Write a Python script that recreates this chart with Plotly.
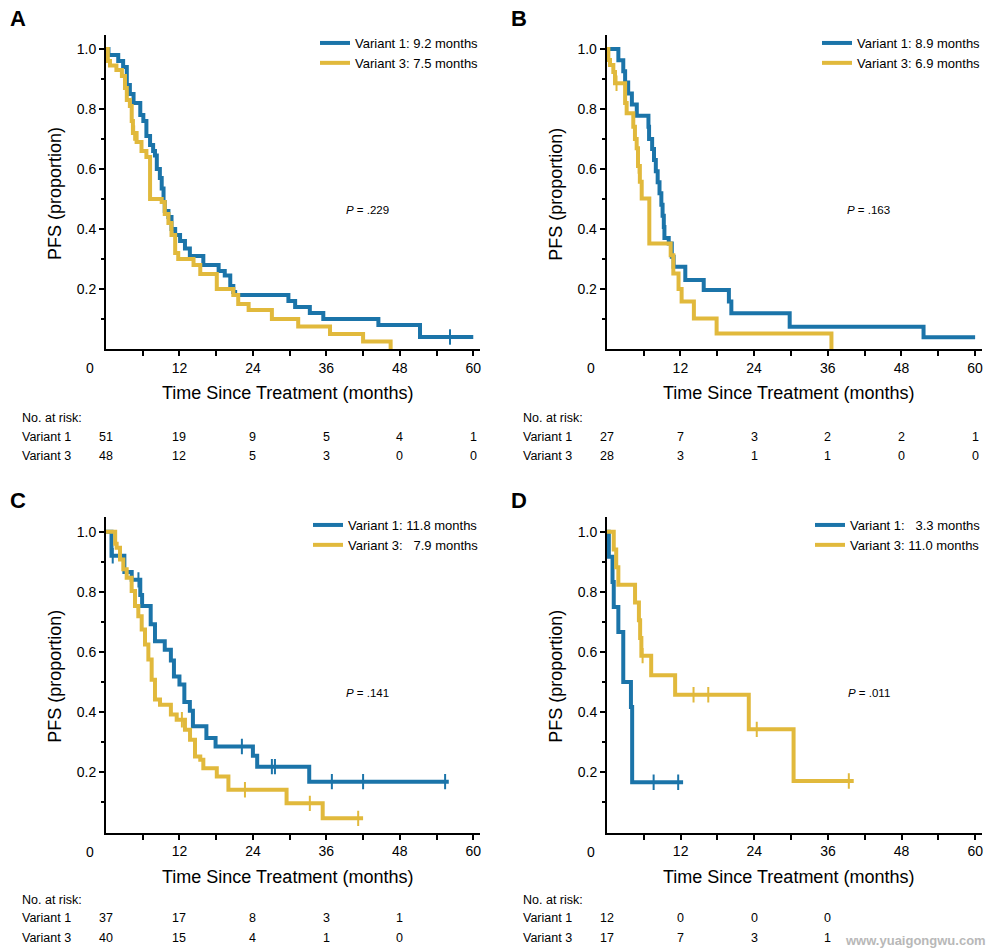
import plotly.graph_objects as go

# ---------------- data ----------------
BLUE = "#1b74a9"
GOLD = "#e1b93c"

# Panel A
A_V1_T = [0, 0.4, 2.0, 2.8, 3.4, 3.9, 4.5, 5.6, 6.1, 6.6, 7.2, 7.7, 8.0, 8.3, 8.8, 9.1, 9.4, 9.6, 10.2, 10.7,
          11.3, 12.1, 12.9, 13.7, 15.9, 18.4, 19.4, 20.3, 20.8, 21.1, 29.8, 30.9, 33.3, 35.5, 44.5, 51.3]
A_V1_S = [1.0, 0.98, 0.96, 0.94, 0.88, 0.85, 0.82, 0.78, 0.76, 0.71, 0.68, 0.66, 0.645, 0.60, 0.57, 0.535, 0.49,
          0.46, 0.44, 0.40, 0.38, 0.36, 0.335, 0.31, 0.28, 0.26, 0.245, 0.21, 0.19, 0.18, 0.16, 0.14, 0.12, 0.10,
          0.08, 0.04]
A_V1_END = 60.0
A_V1_CENS = [56.2]
A_V3_T = [0, 0.3, 0.65, 1.7, 2.6, 3.1, 3.4, 3.9, 4.2, 4.4, 5.0, 5.8, 6.6, 7.2, 9.1, 9.6, 10.2, 10.7, 11.3, 11.8,
          14.3, 15.4, 18.1, 20.8, 21.6, 23.3, 27.1, 31.4, 36.6, 42.0, 46.5]
A_V3_S = [1.0, 0.96, 0.945, 0.93, 0.91, 0.87, 0.83, 0.81, 0.76, 0.72, 0.69, 0.66, 0.64, 0.50, 0.49, 0.45, 0.42,
          0.38, 0.32, 0.30, 0.28, 0.25, 0.20, 0.18, 0.15, 0.13, 0.10, 0.075, 0.05, 0.025, 0.0]
A_V3_END = 46.5
A_V3_CENS = [4.6]

# Panel B
B_V1_T = [0, 1.9, 2.7, 3.0, 3.5, 4.1, 4.9, 6.8, 6.9, 7.4, 7.7, 8.0, 8.3, 8.6, 8.9, 9.1, 9.3, 9.4, 10.1, 10.6,
          10.9, 12.8, 15.8, 19.9, 20.3, 29.8, 51.6]
B_V1_S = [1.0, 0.963, 0.926, 0.889, 0.852, 0.815, 0.778, 0.741, 0.70, 0.667, 0.630, 0.593, 0.556, 0.519, 0.481,
          0.444, 0.407, 0.370, 0.352, 0.308, 0.274, 0.23, 0.197, 0.158, 0.119, 0.074, 0.039]
B_V1_END = 60.0
B_V1_CENS = []
B_V3_T = [0, 0.27, 0.54, 1.08, 1.35, 3.0, 3.25, 4.33, 4.6, 4.88, 5.1, 5.4, 5.7, 6.94, 10.42, 10.85, 11.7, 12.2,
          14.2, 17.9, 36.6]
B_V3_S = [1.0, 0.964, 0.947, 0.924, 0.886, 0.82, 0.786, 0.741, 0.70, 0.669, 0.61, 0.558, 0.502, 0.352, 0.313,
          0.252, 0.20, 0.158, 0.102, 0.052, 0.0]
B_V3_END = 36.6
B_V3_CENS = [1.6, 5.2]

# Panel C
C_V1_T = [0, 0.9, 3.0, 4.2, 5.6, 5.9, 7.3, 8.0, 9.6, 10.6, 11.1, 12.0, 12.8, 13.7, 14.2, 16.4, 17.9, 24.0, 24.7,
          33.2]
C_V1_S = [1.0, 0.92, 0.866, 0.84, 0.79, 0.753, 0.692, 0.636, 0.608, 0.572, 0.519, 0.492, 0.434, 0.405, 0.353,
          0.314, 0.286, 0.255, 0.219, 0.169]
C_V1_END = 56.0
C_V1_CENS = [1.1, 5.3, 22.2, 27.1, 27.6, 36.9, 42.0, 55.4]
C_V3_T = [0, 1.5, 1.74, 2.29, 2.83, 3.38, 4.19, 4.74, 5.28, 5.83, 6.37, 6.92, 7.46, 8.0, 8.82, 10.6, 11.55, 12.9,
          13.73, 14.54, 15.4, 15.9, 18.1, 20.0, 29.5, 35.4]
C_V3_S = [1.0, 0.96, 0.947, 0.908, 0.875, 0.847, 0.803, 0.753, 0.719, 0.675, 0.625, 0.575, 0.508, 0.442, 0.425,
          0.392, 0.375, 0.342, 0.308, 0.253, 0.242, 0.214, 0.186, 0.142, 0.097, 0.047]
C_V3_END = 42.0
C_V3_CENS = [12.4, 22.7, 33.3, 41.2]

# Panel D
D_V1_T = [0, 0.3, 0.9, 1.1, 1.85, 2.65, 3.9, 4.1]
D_V1_S = [1.0, 0.917, 0.833, 0.75, 0.667, 0.5, 0.417, 0.167]
D_V1_END = 12.4
D_V1_CENS = [7.6, 11.6]
D_V3_T = [0, 1.1, 1.5, 1.85, 4.57, 5.2, 5.4, 5.6, 7.2, 11.1, 23.1, 30.4]
D_V3_S = [1.0, 0.941, 0.882, 0.824, 0.765, 0.706, 0.647, 0.588, 0.523, 0.458, 0.343, 0.171]
D_V3_END = 40.2
D_V3_CENS = [5.8, 14.1, 16.5, 24.4, 39.4]

# labels
LEG_A = ["Variant 1: 9.2 months", "Variant 3: 7.5 months"]
LEG_B = ["Variant 1: 8.9 months", "Variant 3: 6.9 months"]
LEG_C = ["Variant 1: 11.8 months", "Variant 3:\u00a0\u00a0 7.9 months"]
LEG_D = ["Variant 1:\u00a0\u00a0 3.3 months", "Variant 3: 11.0 months"]
P_VALUES = [".229", ".163", ".141", ".011"]
PANEL_LETTERS = ["A", "B", "C", "D"]

X_TICKS = [12, 24, 36, 48, 60]
X_MINOR = [6, 18, 30, 42, 54]
Y_TICKS = [0.2, 0.4, 0.6, 0.8, 1.0]
Y_MINOR = [0.1, 0.3, 0.5, 0.7, 0.9]

RISK_TIMES_AB = [0, 12, 24, 36, 48, 60]
RISK_A_V1 = [51, 19, 9, 5, 4, 1]
RISK_A_V3 = [48, 12, 5, 3, 0, 0]
RISK_B_V1 = [27, 7, 3, 2, 2, 1]
RISK_B_V3 = [28, 3, 1, 1, 0, 0]
RISK_TIMES_C = [0, 12, 24, 36, 48]
RISK_C_V1 = [37, 17, 8, 3, 1]
RISK_C_V3 = [40, 15, 4, 1, 0]
RISK_TIMES_D = [0, 12, 24, 36]
RISK_D_V1 = [12, 0, 0, 0]
RISK_D_V3 = [17, 7, 3, 1]

# ---------------- layout helpers ----------------
W, H = 994, 952
FONT = "Liberation Sans, Arial, sans-serif"


def px_x(p):
    return p / W


def px_y(p):
    return 1 - p / H


def step_at(T, S, t):
    v = S[0]
    for ti, si in zip(T, S):
        if ti <= t:
            v = si
    return v


panels = [
    dict(key="", L=106, R=480, Top=35, Bot=349, xr=61.1, yr=1.047,
         series=[(A_V1_T, A_V1_S, A_V1_END, A_V1_CENS), (A_V3_T, A_V3_S, A_V3_END, A_V3_CENS)],
         leg=LEG_A, risk=(RISK_TIMES_AB, RISK_A_V1, RISK_A_V3), risk_y=(418, 437, 456)),
    dict(key="2", L=606.7, R=982, Top=35, Bot=349, xr=61.12, yr=1.047,
         series=[(B_V1_T, B_V1_S, B_V1_END, B_V1_CENS), (B_V3_T, B_V3_S, B_V3_END, B_V3_CENS)],
         leg=LEG_B, risk=(RISK_TIMES_AB, RISK_B_V1, RISK_B_V3), risk_y=(418, 437, 456)),
    dict(key="3", L=106, R=480, Top=517, Bot=832.5, xr=61.1, yr=1.049,
         series=[(C_V1_T, C_V1_S, C_V1_END, C_V1_CENS), (C_V3_T, C_V3_S, C_V3_END, C_V3_CENS)],
         leg=LEG_C, risk=(RISK_TIMES_C, RISK_C_V1, RISK_C_V3), risk_y=(900, 918, 938)),
    dict(key="4", L=607, R=982, Top=517, Bot=832.5, xr=61.1, yr=1.049,
         series=[(D_V1_T, D_V1_S, D_V1_END, D_V1_CENS), (D_V3_T, D_V3_S, D_V3_END, D_V3_CENS)],
         leg=LEG_D, risk=(RISK_TIMES_D, RISK_D_V1, RISK_D_V3), risk_y=(900, 918, 938)),
]

fig = go.Figure()
annotations = []
layout = dict(width=W, height=H, margin=dict(l=0, r=0, t=0, b=0),
              paper_bgcolor="white", plot_bgcolor="white",
              font=dict(family=FONT, color="black"), showlegend=True)

for i, p in enumerate(panels):
    k = p["key"]
    xa, ya = "x" + k, "y" + k
    legname = "legend" + k
    for j, (T, S, END, CENS) in enumerate(p["series"]):
        color = BLUE if j == 0 else GOLD
        fig.add_trace(go.Scatter(
            x=list(T) + [END], y=list(S) + [S[-1]], mode="lines", line_shape="hv",
            line=dict(color=color, width=4), name=p["leg"][j], xaxis=xa, yaxis=ya,
            legend=legname, hoverinfo="skip"))
        if CENS:
            fig.add_trace(go.Scatter(
                x=CENS, y=[step_at(T, S, c) for c in CENS], mode="markers",
                marker=dict(symbol="line-ns", size=11, line=dict(width=2, color=color)),
                xaxis=xa, yaxis=ya, showlegend=False, hoverinfo="skip"))

    layout["xaxis" + k] = dict(
        domain=[px_x(p["L"]), px_x(p["R"])], range=[0, p["xr"]], anchor=ya,
        showline=True, linecolor="black", linewidth=2, mirror=False,
        ticks="outside", ticklen=5, tickwidth=1.5, tickcolor="black",
        tickmode="array", tickvals=X_TICKS, ticktext=[str(v) for v in X_TICKS],
        tickfont=dict(size=14, family=FONT), showgrid=False, zeroline=False,
        minor=dict(tickmode="array", tickvals=X_MINOR, ticks="outside", ticklen=5,
                   tickwidth=1.5, tickcolor="black", showgrid=False),
        fixedrange=True)
    layout["yaxis" + k] = dict(
        domain=[px_y(p["Bot"]), px_y(p["Top"])], range=[0, p["yr"]], anchor=xa,
        showline=True, linecolor="black", linewidth=2,
        ticks="outside", ticklen=5, tickwidth=1.5, tickcolor="black",
        tickmode="array", tickvals=Y_TICKS, ticktext=["%.1f" % v for v in Y_TICKS],
        tickfont=dict(size=14, family=FONT), showgrid=False, zeroline=False,
        minor=dict(tickmode="array", tickvals=Y_MINOR, ticks="outside", ticklen=3,
                   tickwidth=1.5, tickcolor="black", showgrid=False),
        fixedrange=True)

    layout[legname] = dict(
        x=px_x(p["R"] + 4), xanchor="right", y=px_y(p["Top"] - 7), yanchor="top",
        bgcolor="rgba(0,0,0,0)", borderwidth=0, font=dict(size=13, family=FONT),
        tracegroupgap=0, itemwidth=30)

    # panel letter
    annotations.append(dict(text="<b>%s</b>" % PANEL_LETTERS[i], xref="paper", yref="paper",
                            x=px_x(p["L"] - 88), y=px_y(p["Top"] - 17), xanchor="center", yanchor="middle",
                            showarrow=False, font=dict(size=22, family=FONT)))
    # origin "0"
    annotations.append(dict(text="0", xref="paper", yref="paper",
                            x=px_x(p["L"] - 16), y=px_y(p["Bot"] + 19), xanchor="center", yanchor="middle",
                            showarrow=False, font=dict(size=14, family=FONT)))
    # axis titles
    annotations.append(dict(text="Time Since Treatment (months)", xref="paper", yref="paper",
                            x=px_x((p["L"] + p["R"]) / 2 - 6), y=px_y(p["Bot"] + 44), xanchor="center",
                            yanchor="middle", showarrow=False, font=dict(size=18, family=FONT)))
    annotations.append(dict(text="PFS (proportion)", xref="paper", yref="paper", textangle=-90,
                            x=px_x(p["L"] - 51), y=px_y((p["Top"] + p["Bot"]) / 2 + 2), xanchor="center",
                            yanchor="middle", showarrow=False, font=dict(size=18, family=FONT)))
    # P value
    annotations.append(dict(text="<i>P</i> = " + P_VALUES[i], xref=xa, yref=ya, x=42.7, y=0.465,
                            xanchor="center", yanchor="middle", showarrow=False,
                            font=dict(size=11.5, family=FONT)))
    # risk table
    times, r1, r3 = p["risk"]
    ry0, ry1, ry3 = p["risk_y"]
    lab_x = px_x(p["L"] - 86)
    annotations.append(dict(text="No. at risk:", xref="paper", yref="paper", x=lab_x, y=px_y(ry0),
                            xanchor="left", yanchor="middle", showarrow=False, font=dict(size=12.5, family=FONT)))
    annotations.append(dict(text="Variant 1", xref="paper", yref="paper", x=lab_x, y=px_y(ry1),
                            xanchor="left", yanchor="middle", showarrow=False, font=dict(size=12.5, family=FONT)))
    annotations.append(dict(text="Variant 3", xref="paper", yref="paper", x=lab_x, y=px_y(ry3),
                            xanchor="left", yanchor="middle", showarrow=False, font=dict(size=12.5, family=FONT)))
    for t, n1, n3 in zip(times, r1, r3):
        annotations.append(dict(text=str(n1), xref=xa, yref="paper", x=t, y=px_y(ry1),
                                xanchor="center", yanchor="middle", showarrow=False,
                                font=dict(size=12.5, family=FONT)))
        annotations.append(dict(text=str(n3), xref=xa, yref="paper", x=t, y=px_y(ry3),
                                xanchor="center", yanchor="middle", showarrow=False,
                                font=dict(size=12.5, family=FONT)))

annotations.append(dict(text="<b>www.yuaigongwu.com</b>", xref="paper", yref="paper", x=px_x(988),
                        y=px_y(940), xanchor="right", yanchor="middle", showarrow=False,
                        font=dict(size=13, family=FONT, color="#b8b8b8")))

layout["annotations"] = annotations
fig.update_layout(**layout)
fig.write_html("out.html", config={"displayModeBar": False},
               post_script="document.body.style.margin='0';document.body.style.overflow='hidden';")
